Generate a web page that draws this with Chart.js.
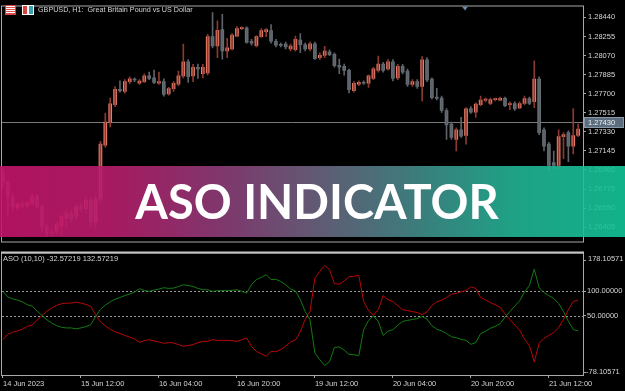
<!DOCTYPE html>
<html>
<head>
<meta charset="utf-8">
<script src="https://cdn.jsdelivr.net/npm/chart.js@4.4.0/dist/chart.umd.min.js"></script>
<style>
  html, body { margin: 0; padding: 0; background: #000; }
  #wrap { position: relative; width: 625px; height: 391px; overflow: hidden; background: #000;
          font-family: "Liberation Sans", Arial, sans-serif; }
  canvas { position: absolute; left: 0; }
  #priceChart { top: 0; }
  #asoChart { top: 248px; }
  .label { position: absolute; color: #d4d4d4; font-size: 7.5px; line-height: 10px; white-space: pre; }
  #title { left: 38px; top: 5px; font-size: 7.2px; }
  #asoTitle { left: 3px; top: 254px; }
  .icon { position: absolute; top: 5px; height: 8px; }
  #icon1 { left: 5px; width: 9px; background: #fff; border: 1px solid #d84040;
           background-image: repeating-linear-gradient(#fff 0 1px, #e05050 1px 2px); }
  #icon2 { left: 22px; width: 10px; border: 1px solid #fff;
           background: linear-gradient(90deg, #d84040 0 40%, #fff 40% 60%, #3aa0b0 60% 100%); }
  #banner { position: absolute; left: 0; top: 166px; width: 625px; height: 71px; opacity: 0.9;
            background: linear-gradient(90deg, #c4146a 0%, #b91d6c 18%, #8e3c78 35%, #6d6280 50%, #3f8e8a 68%, #22b394 82%, #13c69a 100%); }
  #bannerText { position: absolute; left: 0; top: 166px; width: 634px; height: 71px; text-align: center;
                color: #fff; font-family: Lato, "Open Sans", sans-serif; font-weight: 700; font-size: 47px; line-height: 71px; }
</style>
</head>
<body>
<div id="wrap">
  <canvas id="priceChart" width="625" height="248"></canvas>
  <canvas id="asoChart" width="625" height="143"></canvas>
  <div id="icon1" class="icon"></div>
  <div id="icon2" class="icon"></div>
  <div id="title" class="label">GBPUSD, H1:  Great Britain Pound vs US Dollar</div>
  <div id="asoTitle" class="label">ASO (10,10) -32.57219 132.57219</div>
  <div id="banner"></div>
  <div id="bannerText">ASO INDICATOR</div>
</div>
<script>
// GBPUSD H1, 14 Jun 2023 20:00 .. 21 Jun 2023 18:00
const openP = [
  1.26929, 1.26845, 1.26696, 1.26593, 1.26630, 1.26612, 1.26630, 1.26705, 1.26602, 1.26406,
  1.26350, 1.26369, 1.26415, 1.26490, 1.26537, 1.26509, 1.26602, 1.26584, 1.26668, 1.26453,
  1.26677, 1.27200, 1.27424, 1.27593, 1.27742, 1.27723, 1.27817, 1.27836, 1.27801, 1.27817,
  1.27873, 1.27854, 1.27801, 1.27817, 1.27698, 1.27749, 1.27792, 1.27873, 1.28010, 1.27873,
  1.27957, 1.27894, 1.27901, 1.28253, 1.28163, 1.28321, 1.28116, 1.28135, 1.28259, 1.28331,
  1.28340, 1.28209, 1.28165, 1.28253, 1.28303, 1.28312, 1.28209, 1.28172, 1.28181, 1.28135,
  1.28128, 1.28221, 1.28175, 1.28135, 1.28184, 1.28050, 1.28072, 1.28107, 1.28081, 1.27976,
  1.27966, 1.27926, 1.27730, 1.27792, 1.27810, 1.27801, 1.27848, 1.27926, 1.27988, 1.27941,
  1.28010, 1.27854, 1.27966, 1.27920, 1.27789, 1.27817, 1.27770, 1.28029, 1.27842, 1.27667,
  1.27658, 1.27537, 1.27406, 1.27256, 1.27350, 1.27294, 1.27555, 1.27521, 1.27593, 1.27637,
  1.27605, 1.27642, 1.27637, 1.27655, 1.27593, 1.27605, 1.27562, 1.27605, 1.27652, 1.27623,
  1.27842, 1.27350, 1.27210, 1.27032, 1.27004, 1.27284, 1.27322, 1.27191, 1.27294
];
const highP = [
  1.26976, 1.26855, 1.26733, 1.26649, 1.26658, 1.26658, 1.26733, 1.26724, 1.26621, 1.26434,
  1.26387, 1.26453, 1.26528, 1.26584, 1.26565, 1.26630, 1.26640, 1.26696, 1.26696, 1.26714,
  1.27238, 1.27509, 1.27658, 1.27770, 1.27826, 1.27836, 1.27864, 1.27854, 1.27836, 1.27892,
  1.27910, 1.27929, 1.27910, 1.27845, 1.27761, 1.27817, 1.27920, 1.28181, 1.28032, 1.27985,
  1.27988, 1.27985, 1.28275, 1.28487, 1.28408, 1.28471, 1.28237, 1.28284, 1.28352, 1.28349,
  1.28349, 1.28228, 1.28265, 1.28331, 1.28331, 1.28371, 1.28228, 1.28191, 1.28200, 1.28181,
  1.28259, 1.28284, 1.28191, 1.28200, 1.28200, 1.28097, 1.28160, 1.28125, 1.28097, 1.28035,
  1.27988, 1.27938, 1.27817, 1.27826, 1.27826, 1.27882, 1.27957, 1.28066, 1.28004, 1.28032,
  1.28032, 1.27985, 1.27985, 1.27938, 1.27836, 1.27836, 1.28060, 1.28050, 1.27854, 1.27751,
  1.27677, 1.27555, 1.27424, 1.27368, 1.27471, 1.27565, 1.27574, 1.27611, 1.27677, 1.27658,
  1.27658, 1.27658, 1.27667, 1.27667, 1.27621, 1.27621, 1.27621, 1.27677, 1.27667, 1.28020,
  1.27864, 1.27368, 1.27228, 1.27144, 1.27350, 1.27322, 1.27340, 1.27555, 1.27406
];
const lowP = [
  1.26789, 1.26509, 1.26565, 1.26565, 1.26593, 1.26593, 1.26612, 1.26584, 1.26359, 1.26312,
  1.26322, 1.26341, 1.26322, 1.26397, 1.26453, 1.26481, 1.26556, 1.26546, 1.26415, 1.26397,
  1.26649, 1.27182, 1.27378, 1.27574, 1.27714, 1.27705, 1.27798, 1.27817, 1.27789, 1.27808,
  1.27836, 1.27798, 1.27789, 1.27677, 1.27686, 1.27723, 1.27779, 1.27854, 1.27810, 1.27817,
  1.27848, 1.27854, 1.27882, 1.28144, 1.28050, 1.28035, 1.28050, 1.28125, 1.28253, 1.28321,
  1.28191, 1.28172, 1.28153, 1.28247, 1.28253, 1.28191, 1.28153, 1.28153, 1.28135, 1.28116,
  1.28113, 1.28097, 1.28116, 1.28116, 1.28032, 1.28032, 1.28050, 1.28069, 1.27957, 1.27894,
  1.27879, 1.27708, 1.27714, 1.27779, 1.27789, 1.27761, 1.27836, 1.27910, 1.27910, 1.27929,
  1.27823, 1.27836, 1.27892, 1.27770, 1.27770, 1.27751, 1.27630, 1.27817, 1.27649, 1.27639,
  1.27518, 1.27256, 1.27256, 1.27144, 1.27275, 1.27210, 1.27509, 1.27471, 1.27583, 1.27621,
  1.27593, 1.27630, 1.27630, 1.27574, 1.27546, 1.27537, 1.27555, 1.27593, 1.27593, 1.27565,
  1.27303, 1.27144, 1.26957, 1.26976, 1.26976, 1.27069, 1.27041, 1.27116, 1.27284
];
const closeP = [
  1.26845, 1.26696, 1.26602, 1.26630, 1.26612, 1.26640, 1.26705, 1.26602, 1.26406, 1.26350,
  1.26359, 1.26434, 1.26509, 1.26546, 1.26490, 1.26602, 1.26584, 1.26668, 1.26453, 1.26677,
  1.27210, 1.27424, 1.27602, 1.27742, 1.27728, 1.27817, 1.27845, 1.27833, 1.27823, 1.27873,
  1.27848, 1.27810, 1.27817, 1.27693, 1.27749, 1.27801, 1.27873, 1.28010, 1.27864, 1.27957,
  1.27941, 1.27957, 1.28253, 1.28163, 1.28315, 1.28116, 1.28144, 1.28268, 1.28331, 1.28340,
  1.28197, 1.28191, 1.28253, 1.28312, 1.28321, 1.28209, 1.28172, 1.28169, 1.28153, 1.28163,
  1.28228, 1.28175, 1.28135, 1.28184, 1.28041, 1.28072, 1.28113, 1.28078, 1.27973, 1.27957,
  1.27926, 1.27739, 1.27801, 1.27810, 1.27801, 1.27873, 1.27941, 1.27988, 1.27926, 1.28010,
  1.27848, 1.27966, 1.27910, 1.27789, 1.27817, 1.27770, 1.28029, 1.27833, 1.27661, 1.27653,
  1.27537, 1.27396, 1.27275, 1.27350, 1.27287, 1.27552, 1.27521, 1.27599, 1.27637, 1.27639,
  1.27642, 1.27644, 1.27655, 1.27583, 1.27605, 1.27552, 1.27605, 1.27652, 1.27605, 1.27842,
  1.27322, 1.27191, 1.27004, 1.27004, 1.27284, 1.27303, 1.27191, 1.27294, 1.27356
];

// ASO (10,10): bulls (green) and bears (red)
const asoBulls = [
  99.3, 88, 84, 81.3, 78, 72, 69.3, 59.3, 50, 41.3,
  34.7, 29.3, 26, 24.7, 24.7, 22.7, 24.7, 27.3, 31.3, 48,
  62.7, 71.3, 78, 83.3, 86.7, 90.7, 94, 98, 104.7, 101.3,
  99.3, 102, 104, 106.7, 105.3, 106, 109.3, 112.7, 111.3, 109.3,
  105.3, 102.7, 102.7, 99.3, 100.7, 100.7, 100.7, 101.3, 102.7, 99.3,
  96, 113.3, 123.3, 128, 133.3, 123.3, 124, 119.3, 112.7, 104,
  100, 82.7, 58, 41.3, -26.7, -40, -52, -44, -15.3, -14,
  -20.7, -29.3, -30, -32, 21.3, 40, 49.3, 38, 9.3, 18,
  21.3, 30, 38, 40, 42, 44, 48, 42.7, 29.3, 22,
  18.7, 13.3, 6.7, 4.7, 1.3, -0.7, -8.7, -5.3, 13.3, 18,
  24, 28, 33.3, 46.7, 58, 69.3, 80, 98, 111.3, 144.7,
  106.7, 96.7, 90.7, 84.7, 74.7, 58, 38, 21.3, 18.7
];
const asoBears = [
  0.7, 12, 16, 18.7, 22, 28, 30.7, 40.7, 50, 58.7,
  65.3, 70.7, 74, 75.3, 75.3, 77.3, 75.3, 72.7, 68.7, 52,
  37.3, 28.7, 22, 16.7, 13.3, 9.3, 6, 2, -4.7, -1.3,
  0.7, -2, -4, -6.7, -5.3, -6, -9.3, -12.7, -11.3, -9.3,
  -5.3, -2.7, -2.7, 0.7, -0.7, -0.7, -0.7, -1.3, -2.7, 0.7,
  4, -13.3, -23.3, -28, -33.3, -23.3, -24, -19.3, -12.7, -4,
  0, 17.3, 42, 58.7, 126.7, 140, 152, 144, 115.3, 114,
  120.7, 129.3, 130, 132, 78.7, 60, 50.7, 62, 90.7, 82,
  78.7, 70, 62, 60, 58, 56, 52, 57.3, 70.7, 78,
  81.3, 86.7, 93.3, 95.3, 98.7, 100.7, 108.7, 105.3, 86.7, 82,
  76, 72, 66.7, 53.3, 42, 30.7, 20, 2, -11.3, -44.7,
  -6.7, 3.3, 9.3, 15.3, 25.3, 42, 62, 78.7, 81.3
];

const tickIndex = [0, 16, 32, 48, 64, 80, 96, 112];
const tickLabels = ['14 Jun 2023', '15 Jun 12:00', '16 Jun 04:00', '16 Jun 20:00',
                    '19 Jun 12:00', '20 Jun 04:00', '20 Jun 20:00', '21 Jun 12:00'];
const priceTicks = [1.28440, 1.28255, 1.28070, 1.27885, 1.27700, 1.27515,
                    1.27330, 1.27145, 1.26960, 1.26775, 1.26590, 1.26405];
const lastPrice = 1.27430;
const asoLevels = [100, 50];
const asoRange = [-78.10571, 178.10571];

const UP_BODY = '#ee7f6c', DOWN_BODY = '#687078';
const UP_WICK = '#8c3a30', DOWN_WICK = '#5c6268';
const FRAME = '#a8a8a8', TEXT = '#d4d4d4';
const tickFont = { family: 'Liberation Sans', size: 7.5 };

const idx = openP.map((_, i) => i);
const isUp = idx.map((i) => closeP[i] >= openP[i]);

// frame around the plot area, like the terminal draws it
const framePlugin = {
  id: 'frame',
  afterDraw(chart, args, opts) {
    const { ctx, chartArea: a } = chart;
    ctx.save();
    ctx.strokeStyle = FRAME;
    ctx.lineWidth = 1;
    ctx.strokeRect(a.left - 0.5, a.top - 0.5, a.right - a.left + 1, a.bottom - a.top + 1);
    if (opts.thickTop) {
      ctx.fillStyle = '#c4c4c4';
      ctx.fillRect(a.left - 1, a.top - 2, a.right - a.left + 2, 2);
    }
    ctx.restore();
  }
};

const priceLinePlugin = {
  id: 'priceLine',
  beforeDatasetsDraw(chart) {
    const { ctx, chartArea: a, scales } = chart;
    const y = Math.round(scales.y.getPixelForValue(lastPrice)) + 0.5;
    ctx.save();
    ctx.strokeStyle = '#7a7a7a';
    ctx.lineWidth = 1;
    ctx.beginPath();
    ctx.moveTo(a.left, y);
    ctx.lineTo(a.right, y);
    ctx.stroke();
    ctx.restore();
  },
  afterDraw(chart) {
    const { ctx, chartArea: a, scales } = chart;
    const y = Math.round(scales.y.getPixelForValue(lastPrice));
    ctx.save();
    ctx.fillStyle = '#5b6d7e';
    ctx.fillRect(a.right + 1, y - 5, 40, 11);
    ctx.strokeStyle = '#8898a8';
    ctx.strokeRect(a.right + 1.5, y - 4.5, 39, 10);
    ctx.fillStyle = '#f0f0f0';
    ctx.font = '7.5px "Liberation Sans"';
    ctx.textBaseline = 'middle';
    ctx.fillText(lastPrice.toFixed(5), a.right + 5, y + 0.5);
    // chart shift marker
    ctx.fillStyle = '#7088a0';
    ctx.beginPath();
    ctx.moveTo(462, a.top);
    ctx.lineTo(468, a.top);
    ctx.lineTo(465, a.top + 4);
    ctx.closePath();
    ctx.fill();
    ctx.restore();
  }
};

new Chart(document.getElementById('priceChart'), {
  type: 'bar',
  data: {
    datasets: [
      {
        data: idx.map((i) => ({ x: i, y: [lowP[i], highP[i]] })),
        backgroundColor: idx.map((i) => (isUp[i] ? UP_WICK : DOWN_WICK)),
        barThickness: 1,
        grouped: false,
        borderWidth: 0
      },
      {
        data: idx.map((i) => ({ x: i, y: [openP[i], closeP[i]] })),
        backgroundColor: idx.map((i) => (isUp[i] ? UP_BODY : DOWN_BODY)),
        barThickness: 3,
        minBarLength: 1,
        grouped: false,
        borderWidth: 0
      }
    ]
  },
  options: {
    responsive: false,
    animation: false,
    layout: { padding: { left: 2, top: 2, bottom: 2, right: 0 } },
    plugins: { legend: { display: false }, tooltip: { enabled: false }, frame: {} },
    scales: {
      x: { type: 'linear', min: -0.2, max: 119, offset: false, display: false },
      y: {
        position: 'right',
        min: 1.26266,
        max: 1.28546,
        afterFit(s) { s.width = 42; },
        afterBuildTicks(s) { s.ticks = priceTicks.map((v) => ({ value: v })); },
        grid: { drawOnChartArea: false, drawTicks: true, tickLength: 3, color: FRAME },
        border: { display: false },
        ticks: { color: TEXT, font: tickFont, padding: 2, callback: (v) => v.toFixed(5) }
      }
    }
  },
  plugins: [framePlugin, priceLinePlugin]
});

const levelPlugin = {
  id: 'levels',
  beforeDatasetsDraw(chart) {
    const { ctx, chartArea: a, scales } = chart;
    ctx.save();
    ctx.strokeStyle = '#9a9a9a';
    ctx.lineWidth = 1;
    ctx.setLineDash([2, 2]);
    asoLevels.forEach((lv) => {
      const y = Math.round(scales.y.getPixelForValue(lv)) + 0.5;
      ctx.beginPath();
      ctx.moveTo(a.left, y);
      ctx.lineTo(a.right, y);
      ctx.stroke();
    });
    ctx.restore();
  },
  afterDraw(chart) {
    // min / max of the window, printed inside the edges like the terminal does
    const { ctx, chartArea: a } = chart;
    ctx.save();
    ctx.fillStyle = TEXT;
    ctx.font = '7.5px "Liberation Sans"';
    ctx.textBaseline = 'top';
    ctx.fillText(asoRange[1].toFixed(5), a.right + 5, a.top + 2);
    ctx.textBaseline = 'bottom';
    ctx.fillText(asoRange[0].toFixed(5), a.right + 3, a.bottom + 1);
    ctx.strokeStyle = FRAME;
    [a.top + 6, a.bottom - 3].forEach((y) => {
      ctx.beginPath();
      ctx.moveTo(a.right, Math.round(y) + 0.5);
      ctx.lineTo(a.right + 3, Math.round(y) + 0.5);
      ctx.stroke();
    });
    ctx.restore();
  }
};

new Chart(document.getElementById('asoChart'), {
  type: 'line',
  data: {
    datasets: [
      { data: idx.map((i) => ({ x: i, y: asoBulls[i] })), borderColor: '#137a13', borderWidth: 1, pointRadius: 0, tension: 0 },
      { data: idx.map((i) => ({ x: i, y: asoBears[i] })), borderColor: '#b80808', borderWidth: 1, pointRadius: 0, tension: 0 }
    ]
  },
  options: {
    responsive: false,
    animation: false,
    layout: { padding: { left: 2, top: 3, bottom: 0, right: 0 } },
    plugins: { legend: { display: false }, tooltip: { enabled: false }, frame: { thickTop: true } },
    scales: {
      x: {
        type: 'linear',
        min: -0.2,
        max: 119,
        offset: false,
        afterFit(s) { s.height = 16; },
        afterBuildTicks(s) { s.ticks = tickIndex.map((v) => ({ value: v })); },
        grid: { drawOnChartArea: false, drawTicks: true, tickLength: 3, color: FRAME },
        border: { display: false },
        ticks: {
          color: TEXT, font: tickFont, padding: 1, align: 'start', maxRotation: 0, autoSkip: false,
          callback: (v) => tickLabels[tickIndex.indexOf(v)]
        }
      },
      y: {
        position: 'right',
        min: -71.4,
        max: 176.6,
        afterFit(s) { s.width = 42; },
        afterBuildTicks(s) { s.ticks = asoLevels.map((v) => ({ value: v })); },
        grid: { drawOnChartArea: false, drawTicks: true, tickLength: 3, color: FRAME },
        border: { display: false },
        ticks: { color: TEXT, font: tickFont, padding: 1, callback: (v) => v.toFixed(5) }
      }
    }
  },
  plugins: [framePlugin, levelPlugin]
});
</script>
</body>
</html>
